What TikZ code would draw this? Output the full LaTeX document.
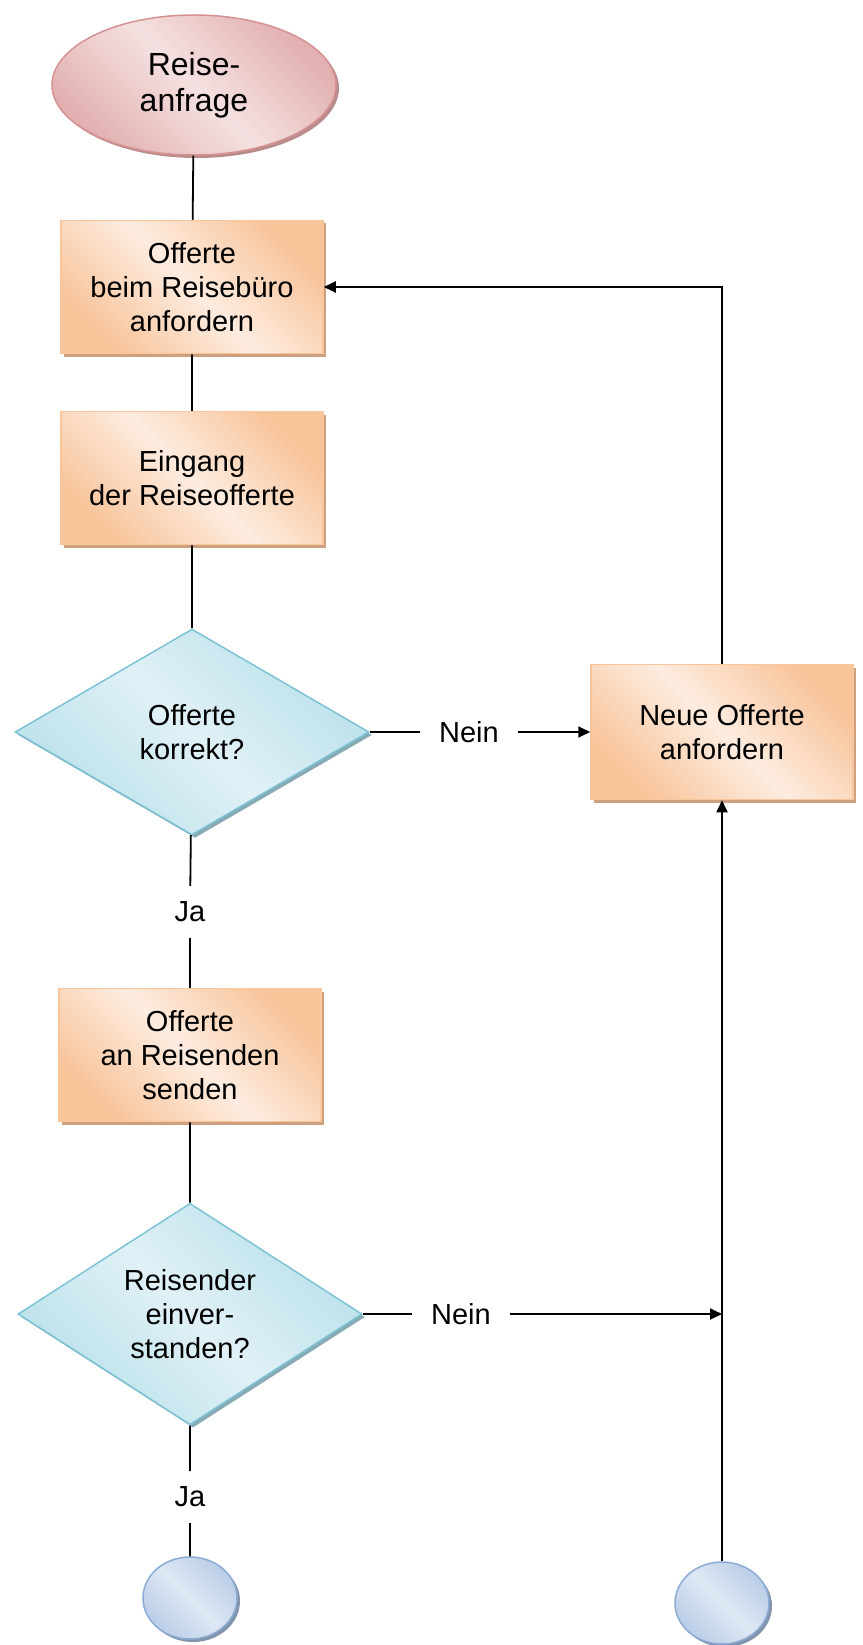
\documentclass[tikz,border=0pt]{standalone}
\usepackage{fontspec}
\setmainfont{Liberation Sans}
\usetikzlibrary{shapes.geometric,arrows.meta,shadows,positioning}
\definecolor{boxlight}{RGB}{253,236,224}
\definecolor{boxdark}{RGB}{248,196,154}
\definecolor{boxline}{RGB}{249,198,156}
\definecolor{boxshade}{RGB}{205,160,128}
\definecolor{elllight}{RGB}{245,225,225}
\definecolor{elldark}{RGB}{226,176,176}
\definecolor{ellline}{RGB}{214,146,146}
\definecolor{ellshade}{RGB}{185,140,140}
\definecolor{dialight}{RGB}{224,241,246}
\definecolor{diadark}{RGB}{186,224,234}
\definecolor{dialine}{RGB}{125,195,213}
\definecolor{diashade}{RGB}{135,170,180}
\definecolor{endlight}{RGB}{222,232,244}
\definecolor{enddark}{RGB}{186,205,231}
\definecolor{endline}{RGB}{140,172,212}
\definecolor{endshade}{RGB}{130,148,172}
\tikzset{
  txt/.style={font=\fontsize{29}{34}\selectfont, align=center, text=black},
  box/.style={txt, rectangle, draw=boxline, line width=1.5pt,
    minimum width=262pt, minimum height=133pt,
    top color=boxdark, bottom color=boxdark, middle color=boxlight, shading angle=-45,
    drop shadow={shadow xshift=3pt, shadow yshift=-3pt, fill=boxshade, opacity=1}},
  start/.style={txt, ellipse, draw=ellline, line width=1.5pt, font=\fontsize{32}{36}\selectfont,
    minimum width=284pt, minimum height=140pt,
    top color=elldark, bottom color=elldark, middle color=elllight, shading angle=-45,
    drop shadow={shadow xshift=3pt, shadow yshift=-3pt, fill=ellshade, opacity=1}},
  query/.style={txt, diamond, draw=dialine, line width=1.5pt, inner sep=0pt,
    top color=diadark, bottom color=diadark, middle color=dialight, shading angle=-45,
    drop shadow={shadow xshift=3pt, shadow yshift=-3pt, fill=diashade, opacity=1}},
  stop/.style={ellipse, draw=endline, line width=1.5pt, minimum width=94pt, minimum height=82pt,
    top color=enddark, bottom color=enddark, middle color=endlight, shading angle=-45,
    drop shadow={shadow xshift=3pt, shadow yshift=-3pt, fill=endshade, opacity=1}},
  lbl/.style={txt, inner xsep=18pt, inner ysep=15pt},
  arr/.style={-{Triangle[length=12pt,width=11pt]}}
}
\begin{document}
\begin{tikzpicture}[x=1pt,y=-1pt,line width=1.8pt]
  \useasboundingbox (0,0) rectangle (862,1645);
  \node[start] (anfrage) at (194,85) {Reise-\\anfrage};
  \node[box] (offerte) at (192,287) {Offerte\\beim Reisebüro\\anfordern};
  \node[box] (eingang) at (192,478) {Eingang\\der Reiseofferte};
  \node[query, minimum width=354pt, minimum height=206pt] (korrekt) at (192,732) {Offerte\\korrekt?};
  \node[box, minimum height=135pt] (neu) at (722,732) {Neue Offerte\\anfordern};
  \node[box] (senden) at (190,1055) {Offerte\\an Reisenden\\senden};
  \node[query, minimum width=344pt, minimum height=221pt] (einverstanden) at (190,1314) {Reisender\\einver-\\standen?};
  \node[stop] (endja) at (190,1598) {};
  \node[stop] (endnein) at (722,1603) {};
  \node[lbl] (nein1) at (469,732) {Nein};
  \node[lbl] (ja1) at (190,912) {Ja};
  \node[lbl] (nein2) at (461,1314) {Nein};
  \node[lbl] (ja2) at (190,1497) {Ja};
  \draw (anfrage) -- (offerte) -- (eingang) -- (korrekt);
  \draw (korrekt) -- (nein1);
  \draw[arr] (nein1) -- (neu);
  \draw[arr] (neu) |- (offerte);
  \draw (korrekt) -- (ja1) -- (senden) -- (einverstanden) -- (ja2) -- (endja);
  \draw (einverstanden) -- (nein2);
  \draw[arr] (nein2) -- (nein2 -| endnein.north);
  \draw[arr] (endnein) -- (neu);
\end{tikzpicture}
\end{document}
